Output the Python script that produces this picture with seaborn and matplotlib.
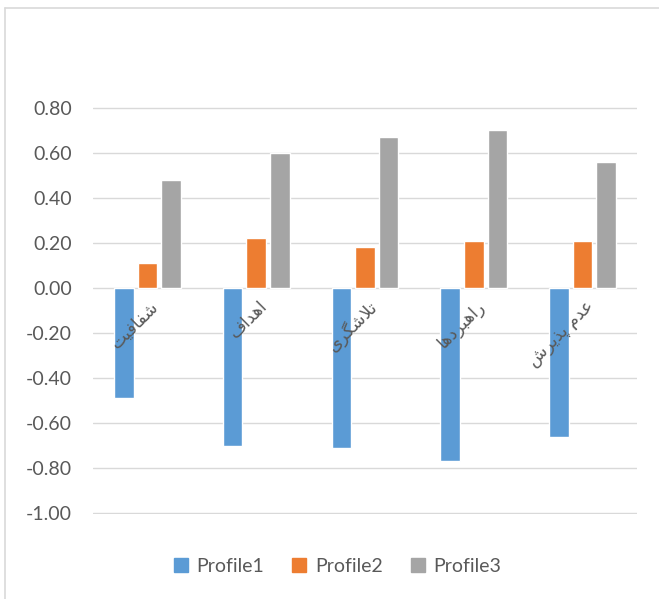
import numpy as np
import pandas as pd
import matplotlib
matplotlib.use('Agg')
import matplotlib.pyplot as plt
import seaborn as sns
from matplotlib.lines import Line2D

# Data
categories = ['شفافیت', 'اهداف', 'تلاشگری', 'راهبردها', 'عدم پذیرش']
profile1 = [-0.49, -0.70, -0.71, -0.77, -0.66]
profile2 = [0.11, 0.22, 0.18, 0.21, 0.21]
profile3 = [0.48, 0.60, 0.67, 0.70, 0.56]
series_names = ['Profile1', 'Profile2', 'Profile3']
colors = ['#5B9BD5', '#ED7D31', '#A5A5A5']
y_ticks = [0.8, 0.6, 0.4, 0.2, 0.0, -0.2, -0.4, -0.6, -0.8, -1.0]

# Minimal Persian shaping (matplotlib has no bidi / joining support)
forms = {
    'ا': (0xFE8D, 0xFE8E, None, None),
    'ب': (0xFE8F, 0xFE90, 0xFE91, 0xFE92),
    'پ': (0xFB56, 0xFB57, 0xFB58, 0xFB59),
    'ت': (0xFE95, 0xFE96, 0xFE97, 0xFE98),
    'د': (0xFEA9, 0xFEAA, None, None),
    'ذ': (0xFEAB, 0xFEAC, None, None),
    'ر': (0xFEAD, 0xFEAE, None, None),
    'ش': (0xFEB5, 0xFEB6, 0xFEB7, 0xFEB8),
    'ع': (0xFEC9, 0xFECA, 0xFECB, 0xFECC),
    'ف': (0xFED1, 0xFED2, 0xFED3, 0xFED4),
    'ک': (0xFB8E, 0xFB8F, 0xFB90, 0xFB91),
    'گ': (0xFB92, 0xFB93, 0xFB94, 0xFB95),
    'ل': (0xFEDD, 0xFEDE, 0xFEDF, 0xFEE0),
    'م': (0xFEE1, 0xFEE2, 0xFEE3, 0xFEE4),
    'ه': (0xFEE9, 0xFEEA, 0xFEEB, 0xFEEC),
    'ی': (0xFBFC, 0xFBFD, 0xFBFE, 0xFBFF),
}


def shape(word):
    # lam-alef ligature
    chars = []
    i = 0
    while i < len(word):
        if word[i] == 'ل' and i + 1 < len(word) and word[i + 1] == 'ا':
            chars.append('LA')
            i += 2
        else:
            chars.append(word[i])
            i += 1

    def joins_next(c):
        if c == 'LA' or c not in forms:
            return False
        return forms[c][2] is not None

    out = []
    for k, c in enumerate(chars):
        prev_j = k > 0 and joins_next(chars[k - 1])
        nxt = chars[k + 1] if k + 1 < len(chars) else None
        next_ok = nxt is not None and (nxt == 'LA' or nxt in forms)
        if c == 'LA':
            out.append(chr(0xFEFC if prev_j else 0xFEFB))
            continue
        if c not in forms:
            out.append(c)
            continue
        iso, fin, ini, med = forms[c]
        can_next = ini is not None and next_ok
        if prev_j and can_next:
            out.append(chr(med))
        elif prev_j:
            out.append(chr(fin))
        elif can_next:
            out.append(chr(ini))
        else:
            out.append(chr(iso))
    return ''.join(reversed(out))


df = pd.DataFrame({
    'category': categories * 3,
    'series': np.repeat(series_names, len(categories)),
    'value': profile1 + profile2 + profile3,
})

sns.set_theme(style='white')
plt.rcParams['font.family'] = ['Lato', 'DejaVu Sans']

fig = plt.figure(figsize=(6.59, 5.99), dpi=100)
ax = fig.add_axes([93 / 659, 1 - 514 / 599, 544 / 659, 407 / 599])

sns.barplot(data=df, x='category', y='value', hue='series',
            palette=colors, saturation=1, width=0.65, gap=0.17,
            ax=ax, legend=False)

ax.set_ylim(-1.003, 0.803)
ax.set_yticks(y_ticks)
ax.set_yticklabels([f'{t:.2f}' for t in y_ticks], fontsize=14, color='#595959')
ax.yaxis.grid(True, color='#D9D9D9', linewidth=1)
ax.set_axisbelow(True)
for s in ax.spines.values():
    s.set_visible(False)
ax.tick_params(axis='y', length=0, pad=15)
ax.set_xticks([])
ax.set_xlabel('')
ax.set_ylabel('')
ax.set_xlim(-0.5, len(categories) - 0.5)

# Category labels sit on the zero line, rotated
for i, cat in enumerate(categories):
    ax.text(i + 0.02, -0.04, shape(cat), rotation=45, rotation_mode='anchor',
            ha='right', va='top', fontsize=12.5, color='#595959',
            family=['DejaVu Sans'])

handles = [Line2D([0], [0], marker='s', linestyle='none', markersize=10,
                  markerfacecolor=c, markeredgecolor=c) for c in colors]
fig.legend(handles, series_names, loc='center', bbox_to_anchor=(0.51, 1 - 566 / 599),
           ncol=3, frameon=False, fontsize=14, handletextpad=0.3,
           handlelength=1.0, columnspacing=1.3, labelcolor='#595959')

# chart frame
fig.add_artist(Line2D([5 / 659, 1], [1 - 8 / 599, 1 - 8 / 599], color='#D9D9D9',
                      linewidth=1.2, transform=fig.transFigure))
fig.add_artist(Line2D([5 / 659, 5 / 659], [0, 1 - 8 / 599], color='#D9D9D9',
                      linewidth=1.2, transform=fig.transFigure))

fig.savefig('out.png', dpi=100)
